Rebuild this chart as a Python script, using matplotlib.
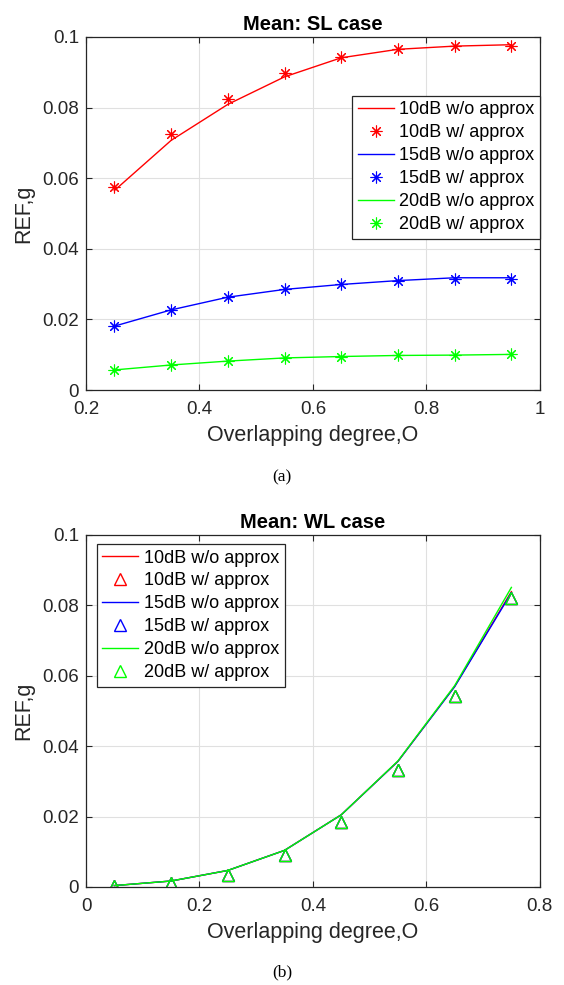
import matplotlib
matplotlib.use("Agg")
import matplotlib.pyplot as plt

plt.rcParams['font.family'] = ['Liberation Sans', 'DejaVu Sans']

# SL case data
x_sl = [0.25, 0.35, 0.45, 0.55, 0.65, 0.75, 0.85, 0.95]
sl_10_exact = [0.0565, 0.0707, 0.0809, 0.0887, 0.0941, 0.0965, 0.0974, 0.0978]
sl_10_approx = [0.0575, 0.0724, 0.0825, 0.0899, 0.0943, 0.0965, 0.0975, 0.0975]
sl_15_exact = [0.0181, 0.0227, 0.0263, 0.0285, 0.0299, 0.0310, 0.0318, 0.0318]
sl_15_approx = [0.0181, 0.0228, 0.0263, 0.0285, 0.0299, 0.0310, 0.0315, 0.0315]
sl_20_exact = [0.0057, 0.0071, 0.0082, 0.0091, 0.0095, 0.0098, 0.0099, 0.0101]
sl_20_approx = [0.0057, 0.0071, 0.0082, 0.0091, 0.0095, 0.0098, 0.0099, 0.0101]

# WL case data
x_wl = [0.05, 0.15, 0.25, 0.35, 0.45, 0.55, 0.65, 0.75]
wl_10_exact = [0.0004, 0.0017, 0.0047, 0.0104, 0.0205, 0.0357, 0.0570, 0.0839]
wl_15_exact = [0.0004, 0.0017, 0.0047, 0.0104, 0.0205, 0.0357, 0.0569, 0.0836]
wl_20_exact = [0.0004, 0.0017, 0.0047, 0.0104, 0.0205, 0.0358, 0.0572, 0.0851]
wl_10_approx = [0.0003, 0.0011, 0.0035, 0.0090, 0.0184, 0.0333, 0.0542, 0.0820]
wl_15_approx = [0.0003, 0.0011, 0.0035, 0.0090, 0.0184, 0.0333, 0.0542, 0.0820]
wl_20_approx = [0.0003, 0.0011, 0.0035, 0.0090, 0.0184, 0.0333, 0.0542, 0.0820]

labels = ["10dB w/o approx", "10dB w/ approx", "15dB w/o approx",
          "15dB w/ approx", "20dB w/o approx", "20dB w/ approx"]
colors = [(1, 0, 0), (0, 0, 1), (0, 1, 0)]

AX_COL = (0.15, 0.15, 0.15)
GRID_COL = (0.88, 0.88, 0.88)


def style_axes(ax):
    ax.grid(True, color=GRID_COL, linewidth=0.8)
    ax.set_axisbelow(True)
    ax.tick_params(direction='in', length=4, width=0.8, colors=AX_COL,
                   labelsize=13.5, top=True, right=True)
    ax.tick_params(axis='x', pad=8)
    ax.tick_params(axis='y', pad=5)
    for sp in ax.spines.values():
        sp.set_color(AX_COL)
        sp.set_linewidth(0.9)
    ax.set_xlabel("Overlapping degree,O", fontsize=15.5, color=AX_COL, labelpad=5)
    ax.set_ylabel("REF,g", fontsize=15.5, color=AX_COL, labelpad=6)


def add_legend(ax, loc, anchor):
    leg = ax.legend(loc=loc, bbox_to_anchor=anchor, fontsize=13,
                    fancybox=False, edgecolor=AX_COL, framealpha=1,
                    handlelength=2.0, handletextpad=0.3, borderpad=0.3,
                    labelspacing=0.33, borderaxespad=0)
    leg.get_frame().set_linewidth(0.9)
    return leg


fig = plt.figure(figsize=(5.64, 9.85), dpi=100)

# (a) SL case
ax1 = fig.add_axes([0.1525, 0.604, 0.8045, 0.3585])
exact = [sl_10_exact, sl_15_exact, sl_20_exact]
approx = [sl_10_approx, sl_15_approx, sl_20_approx]
for i in range(3):
    ax1.plot(x_sl, exact[i], color=colors[i], linewidth=1.0, label=labels[2 * i])
    ax1.plot(x_sl, approx[i], linestyle='none', marker=(8, 2, 0), markersize=8.5,
             markeredgewidth=0.8, color=colors[i], label=labels[2 * i + 1])
ax1.set_xlim(0.2, 1.0)
ax1.set_ylim(0, 0.1)
ax1.set_xticks([0.2, 0.4, 0.6, 0.8, 1.0])
ax1.set_xticklabels(["0.2", "0.4", "0.6", "0.8", "1"])
ax1.set_yticks([0, 0.02, 0.04, 0.06, 0.08, 0.1])
ax1.set_yticklabels(["0", "0.02", "0.04", "0.06", "0.08", "0.1"])
style_axes(ax1)
ax1.set_title("Mean: SL case", fontsize=14.5, fontweight='bold', pad=5)
add_legend(ax1, 'upper right', (1.0, 0.833))
fig.text(0.5, 1 - 477 / 985, "(a)", ha='center', va='center',
         fontsize=12.5, family='Liberation Serif')

# (b) WL case
ax2 = fig.add_axes([0.1525, 0.0995, 0.8045, 0.3574])
exact = [wl_10_exact, wl_15_exact, wl_20_exact]
approx = [wl_10_approx, wl_15_approx, wl_20_approx]
for i in range(3):
    ax2.plot(x_wl, exact[i], color=colors[i], linewidth=1.0, label=labels[2 * i])
    ax2.plot(x_wl, approx[i], linestyle='none', marker='^', markersize=9,
             markerfacecolor='none', markeredgewidth=1.0, color=colors[i],
             label=labels[2 * i + 1])
ax2.set_xlim(0, 0.8)
ax2.set_ylim(0, 0.1)
ax2.set_xticks([0, 0.2, 0.4, 0.6, 0.8])
ax2.set_xticklabels(["0", "0.2", "0.4", "0.6", "0.8"])
ax2.set_yticks([0, 0.02, 0.04, 0.06, 0.08, 0.1])
ax2.set_yticklabels(["0", "0.02", "0.04", "0.06", "0.08", "0.1"])
style_axes(ax2)
ax2.set_title("Mean: WL case", fontsize=14.5, fontweight='bold', pad=5)
add_legend(ax2, 'upper left', (0.024, 0.974))
fig.text(0.5, 1 - 972 / 985, "(b)", ha='center', va='center',
         fontsize=12.5, family='Liberation Serif')

fig.savefig("out.png", dpi=100, facecolor='white')
